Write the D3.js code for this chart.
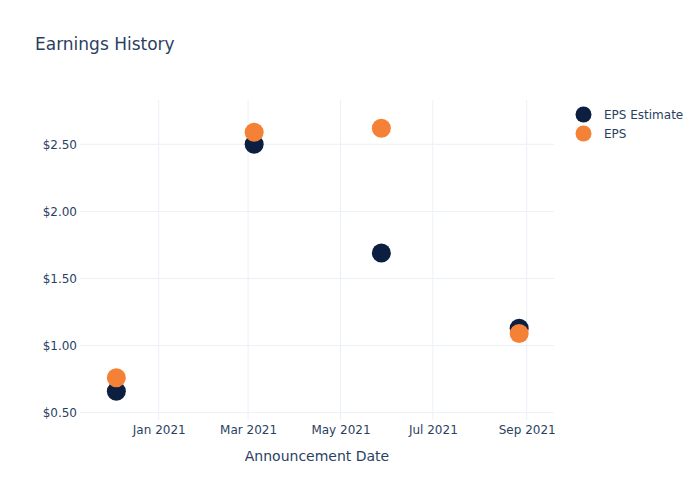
<!DOCTYPE html>
<html>
<head>
<meta charset="utf-8">
<script src="https://cdn.jsdelivr.net/npm/d3@7"></script>
<style>
  body { margin: 0; background: #fff; }
  svg { display: block; }
  text { font-family: "DejaVu Sans", "Open Sans", Verdana, sans-serif; fill: #2a3f5f; }
</style>
</head>
<body>
<svg id="chart" width="700" height="500"></svg>
<script>
// ---- data ----
const dates = ["2020-12-04", "2021-03-05", "2021-05-28", "2021-08-27"];
const epsEstimate = [0.66, 2.50, 1.69, 1.13];
const eps = [0.76, 2.59, 2.62, 1.09];
const seriesNames = ["EPS Estimate", "EPS"];
const seriesColors = ["#0c1f40", "#f58137"];
const yTicks = [0.5, 1.0, 1.5, 2.0, 2.5];
const xTicks = ["2021-01-01", "2021-03-01", "2021-05-01", "2021-07-01", "2021-09-01"];
const xDomain = ["2020-11-10", "2021-09-19"];
const yDomain = [0.4455, 2.83];

const parse = d3.utcParse("%Y-%m-%d");
const svg = d3.select("#chart");
const W = 700, H = 500;
const m = { l: 80, r: 146, t: 100, b: 80 };
const pw = W - m.l - m.r, ph = H - m.t - m.b;

const x = d3.scaleUtc().domain(xDomain.map(parse)).range([m.l, m.l + pw]);
const y = d3.scaleLinear().domain(yDomain).range([m.t + ph, m.t]);

// title
svg.append("text").attr("x", 35).attr("y", 50)
  .style("font-size", "17px").text("Earnings History");

// gridlines
const g = svg.append("g");
g.selectAll("line.xg").data(xTicks.map(parse)).join("line")
  .attr("x1", d => x(d)).attr("x2", d => x(d))
  .attr("y1", m.t).attr("y2", m.t + ph)
  .attr("stroke", "#ebf0f8").attr("stroke-width", 1);
g.selectAll("line.yg").data(yTicks).join("line")
  .attr("x1", m.l).attr("x2", m.l + pw)
  .attr("y1", d => y(d)).attr("y2", d => y(d))
  .attr("stroke", "#ebf0f8").attr("stroke-width", 1);

// axes
const fmtDate = d3.utcFormat("%b %Y");
const xAxis = d3.axisBottom(x).tickValues(xTicks.map(parse)).tickFormat(fmtDate).tickSize(0).tickPadding(5);
const yAxis = d3.axisLeft(y).tickValues(yTicks).tickFormat(d => "$" + d3.format(".2f")(d)).tickSize(0).tickPadding(3);
const xa = svg.append("g").attr("transform", `translate(0,${m.t + ph})`).call(xAxis);
const ya = svg.append("g").attr("transform", `translate(${m.l},0)`).call(yAxis);
[xa, ya].forEach(a => {
  a.select(".domain").remove();
  a.selectAll("text").style("font-size", "12px").attr("fill", "#2a3f5f")
    .style("font-family", '"DejaVu Sans", sans-serif');
});

// axis title
svg.append("text").attr("x", m.l + pw / 2).attr("y", 461)
  .attr("text-anchor", "middle").style("font-size", "14px").text("Announcement Date");

// points
const series = [epsEstimate, eps];
series.forEach((vals, i) => {
  svg.append("g").selectAll("circle").data(vals).join("circle")
    .attr("cx", (d, j) => x(parse(dates[j])))
    .attr("cy", d => y(d))
    .attr("r", 9.5)
    .attr("fill", seriesColors[i]);
});

// legend
const lg = svg.append("g");
seriesNames.forEach((name, i) => {
  const yy = 114.5 + i * 19;
  lg.append("circle").attr("cx", 583.5).attr("cy", yy).attr("r", 8).attr("fill", seriesColors[i]);
  lg.append("text").attr("x", 604).attr("y", yy + 4.5).style("font-size", "12px").text(name);
});
</script>
</body>
</html>
